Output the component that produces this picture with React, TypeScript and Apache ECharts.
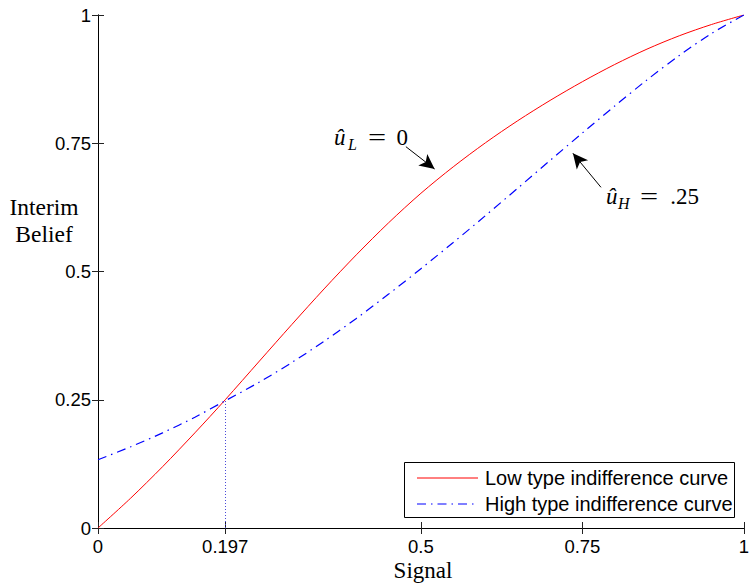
import React, { useEffect, useRef } from "react";
import * as echarts from "echarts";

const signal = [0, 0.05, 0.1, 0.15, 0.197, 0.25, 0.3, 0.35, 0.4, 0.45, 0.5, 0.55, 0.6, 0.65, 0.7, 0.75, 0.8, 0.85, 0.9, 0.95, 1];
const lowCurve = [0, 0.0575, 0.1195, 0.1855, 0.25, 0.3255, 0.3965, 0.466, 0.5325, 0.595, 0.6525, 0.704, 0.751, 0.794, 0.8335, 0.87, 0.9035, 0.9335, 0.9595, 0.9815, 1];
const highCurve = [0.133, 0.158, 0.1855, 0.216, 0.248, 0.2845, 0.3225, 0.364, 0.4085, 0.456, 0.5055, 0.5565, 0.609, 0.6625, 0.7165, 0.77, 0.8225, 0.8735, 0.921, 0.964, 1];
const xTicks = [0, 0.197, 0.5, 0.75, 1];
const yTicks = [0, 0.25, 0.5, 0.75, 1];
const seriesNames = ["Low type indifference curve", "High type indifference curve"];
const crossing = [0.197, 0.25];
const arrowL = [[0.4767, 0.7433], [0.5212, 0.6998]];
const arrowH = [[0.7788, 0.6641], [0.7353, 0.7304]];

const SANS = "'Liberation Sans', Arial, Helvetica, sans-serif";
const SERIF = "'Liberation Serif', 'Times New Roman', serif";
const RED = "#ff0000";
const BLUE = "#0000ff";
const DASHDOT = [9, 5, 1.5, 5];

export default function App() {
  const ref = useRef<HTMLDivElement>(null);
  useEffect(() => {
    if (!ref.current) return;
    const chart = echarts.init(ref.current, undefined, { renderer: "svg" });
    const pairs = (ys: number[]) => signal.map((x, i) => [x, ys[i]]);
    const tickStyle = { show: true, inside: true, length: 6, lineStyle: { color: "#222", width: 1 } };
    const axisLineStyle = { show: true, lineStyle: { color: "#000", width: 1 } };
    const option: any = {
      animation: false,
      backgroundColor: "#fff",
      grid: { left: 98, top: 15, right: 3, bottom: 55, containLabel: false },
      xAxis: [
        {
          type: "value", min: 0, max: 1, position: "bottom",
          axisLine: axisLineStyle,
          axisTick: { ...tickStyle, customValues: xTicks },
          axisLabel: { customValues: xTicks, color: "#000", fontFamily: SANS, fontSize: 18.5, margin: 9, formatter: (v: number) => String(v) },
          splitLine: { show: false },
        },
        {
          type: "value", min: 0, max: 1, position: "top",
          axisLine: axisLineStyle,
          axisTick: { ...tickStyle, customValues: xTicks },
          axisLabel: { show: false, customValues: xTicks },
          splitLine: { show: false },
        },
      ],
      yAxis: [
        {
          type: "value", min: 0, max: 1, interval: 0.25, position: "left",
          axisLine: axisLineStyle,
          axisTick: { ...tickStyle, customValues: yTicks },
          axisLabel: { customValues: yTicks, color: "#000", fontFamily: SANS, fontSize: 18.5, margin: 7, formatter: (v: number) => String(v) },
          splitLine: { show: false },
        },
        {
          type: "value", min: 0, max: 1, interval: 0.25, position: "right",
          axisLine: axisLineStyle,
          axisTick: { ...tickStyle, customValues: yTicks },
          axisLabel: { show: false },
          splitLine: { show: false },
        },
      ],
      series: [
        {
          name: seriesNames[0], type: "line", data: pairs(lowCurve), smooth: 0.3, showSymbol: false, symbol: "none",
          lineStyle: { color: RED, width: 1 }, itemStyle: { color: RED },
        },
        {
          name: seriesNames[1], type: "line", data: pairs(highCurve), smooth: 0.3, showSymbol: false, symbol: "none",
          lineStyle: { color: BLUE, width: 1.2, type: DASHDOT }, itemStyle: { color: BLUE },
        },
        {
          name: "guide", type: "line", data: [], silent: true,
          markLine: {
            silent: true, symbol: ["none", "none"], label: { show: false },
            lineStyle: { color: "#4a4ad8", width: 1, type: [1, 2] },
            data: [[{ coord: [crossing[0], 0] }, { coord: [crossing[0], crossing[1]] }]],
          },
        },
        {
          name: "arrows", type: "line", data: [], silent: true,
          markLine: {
            silent: true, symbol: ["none", "arrow"], symbolSize: [11, 15], label: { show: false },
            lineStyle: { color: "#000", width: 1, type: "solid" },
            data: [
              [{ coord: arrowL[0] }, { coord: arrowL[1] }],
              [{ coord: arrowH[0] }, { coord: arrowH[1] }],
            ],
          },
        },
      ],
      graphic: [
        { type: "text", x: 44, y: 207, style: { text: "Interim", font: `23.5px ${SERIF}`, fill: "#000", textAlign: "center", textVerticalAlign: "middle" } },
        { type: "text", x: 44, y: 234, style: { text: "Belief", font: `23.5px ${SERIF}`, fill: "#000", textAlign: "center", textVerticalAlign: "middle" } },
        { type: "text", x: 423, y: 570, style: { text: "Signal", font: `23px ${SERIF}`, fill: "#000", textAlign: "center", textVerticalAlign: "middle" } },
        // u_L = 0
        { type: "text", x: 334, y: 137, style: { text: "û", font: `italic 23px ${SERIF}`, fill: "#000", textVerticalAlign: "middle" } },
        { type: "text", x: 348, y: 144, style: { text: "L", font: `italic 16px ${SERIF}`, fill: "#000", textVerticalAlign: "middle" } },
        { type: "text", x: 368, y: 137, scaleX: 1.4, style: { text: "=", font: `23px ${SERIF}`, fill: "#000", textVerticalAlign: "middle" } },
        { type: "text", x: 408, y: 137, style: { text: "0", font: `23px ${SERIF}`, fill: "#000", textAlign: "right", textVerticalAlign: "middle" } },
        // u_H = .25
        { type: "text", x: 606, y: 196, style: { text: "û", font: `italic 23px ${SERIF}`, fill: "#000", textVerticalAlign: "middle" } },
        { type: "text", x: 618, y: 203, style: { text: "H", font: `italic 16px ${SERIF}`, fill: "#000", textVerticalAlign: "middle" } },
        { type: "text", x: 640, y: 196, scaleX: 1.4, style: { text: "=", font: `23px ${SERIF}`, fill: "#000", textVerticalAlign: "middle" } },
        { type: "text", x: 699, y: 196, style: { text: ".25", font: `23px ${SERIF}`, fill: "#000", textAlign: "right", textVerticalAlign: "middle" } },
        // legend
        { type: "rect", shape: { x: 404.5, y: 462.5, width: 330, height: 55 }, style: { fill: "#fff", stroke: "#000", lineWidth: 1 }, z: 10 },
        { type: "line", shape: { x1: 417, y1: 478, x2: 478, y2: 478 }, style: { stroke: RED, lineWidth: 1 }, z: 11 },
        { type: "line", shape: { x1: 417, y1: 504, x2: 478, y2: 504 }, style: { stroke: BLUE, lineWidth: 1.2, lineDash: DASHDOT }, z: 11 },
        { type: "text", x: 485, y: 478, style: { text: seriesNames[0], font: `20px ${SANS}`, fill: "#000", textVerticalAlign: "middle" }, z: 11 },
        { type: "text", x: 485, y: 504, style: { text: seriesNames[1], font: `20px ${SANS}`, fill: "#000", textVerticalAlign: "middle" }, z: 11 },
      ],
    };
    chart.setOption(option);
    return () => chart.dispose();
  }, []);
  return <div ref={ref} style={{ width: 752, height: 583, position: "absolute", left: 0, top: 0 }} />;
}
